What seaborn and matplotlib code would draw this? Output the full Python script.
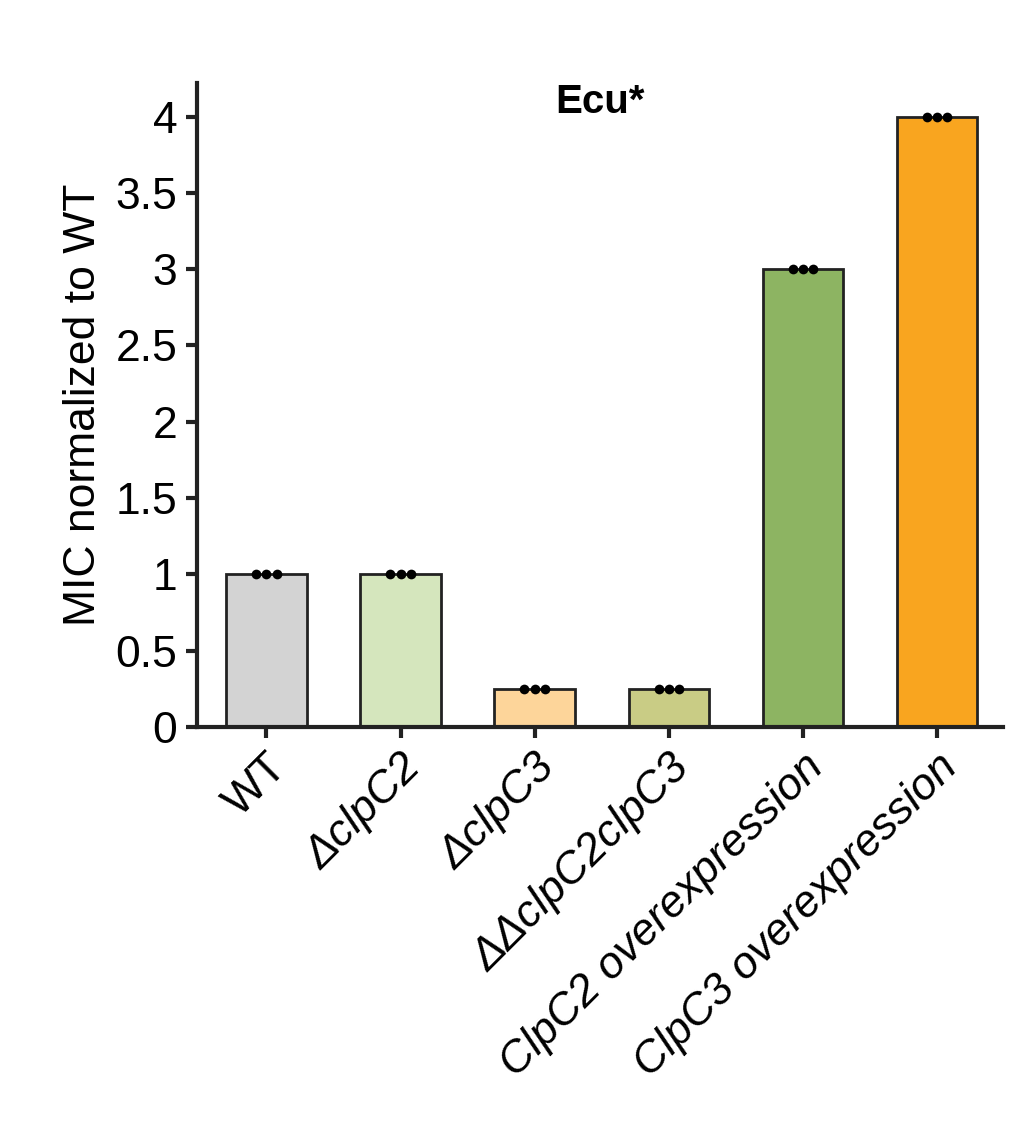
import matplotlib
matplotlib.use("Agg")
import matplotlib.pyplot as plt
import seaborn as sns
import pandas as pd

plt.rcParams["font.family"] = "Liberation Sans"

categories = ["WT", "ΔclpC2", "ΔclpC3", "ΔΔclpC2clpC3", "ClpC2 overexpression", "ClpC3 overexpression"]
means = [1.0, 1.0, 0.25, 0.25, 3.0, 4.0]
replicates = [[1, 1, 1], [1, 1, 1], [0.25, 0.25, 0.25], [0.25, 0.25, 0.25], [3, 3, 3], [4, 4, 4]]
colors = ["#d3d3d3", "#d5e6bd", "#fdd59a", "#c9cc85", "#8db462", "#f9a51f"]
yticks = [0, 0.5, 1, 1.5, 2, 2.5, 3, 3.5, 4]
ytick_labels = ["0", "0.5", "1", "1.5", "2", "2.5", "3", "3.5", "4"]

bar_df = pd.DataFrame({"cat": categories, "val": means})
pts = pd.DataFrame([(c, v) for c, reps in zip(categories, replicates) for v in reps], columns=["cat", "val"])

fig = plt.figure(figsize=(10.19, 11.44), dpi=100)
ax = fig.add_axes([0.193, 0.3645, 0.791, 0.563])
sns.barplot(data=bar_df, x="cat", y="val", hue="cat", palette=colors, order=categories,
            width=0.6, edgecolor="#222222", linewidth=2, saturation=1, legend=False, ax=ax)
sns.swarmplot(data=pts, x="cat", y="val", order=categories, color="black", size=7, ax=ax)

ax.set_xlim(-0.52, 5.49)
ax.set_ylim(0, 4.22)
ax.set_yticks(yticks)
ax.set_yticklabels(ytick_labels, fontsize=32)
ax.set_xticks(range(len(categories)))
ax.set_xticklabels(categories, fontsize=32, rotation=45, ha="right", rotation_mode="anchor")
for lab in ax.get_xticklabels()[1:]:
    lab.set_style("italic")
ax.set_xlabel("")
ax.set_ylabel("MIC normalized to WT", fontsize=32, labelpad=8)
for s in ["top", "right"]:
    ax.spines[s].set_visible(False)
for s in ["left", "bottom"]:
    ax.spines[s].set_linewidth(3)
    ax.spines[s].set_color("#222222")
ax.tick_params(width=3, length=8, color="#222222", pad=6)
ax.text(0.5, 0.97, "Ecu*", transform=ax.transAxes, ha="center", va="center",
        fontsize=29, fontweight="bold")
fig.savefig("out.png", dpi=100)
